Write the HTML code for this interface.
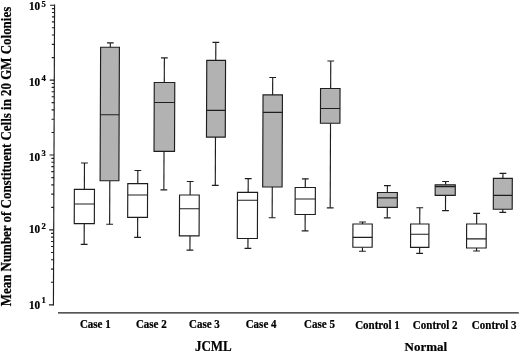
<!DOCTYPE html>
<html><head><meta charset="utf-8"><style>
html,body{margin:0;padding:0;background:#fff;width:520px;height:353px;overflow:hidden}
svg{display:block;filter:grayscale(100%)}
text{font-family:"Liberation Serif",serif;font-weight:bold;fill:#000;stroke:#000;stroke-width:0.22px}
</style></head><body>
<svg width="520" height="353" viewBox="0 0 520 353">
<g stroke="#1e1e1e" stroke-width="1.15" fill="none" stroke-linecap="butt" transform="matrix(1 0 -0.0038 1 0.589 0)">
<line x1="54.0" y1="4.6000000000000005" x2="54.0" y2="305.40"/>
<line x1="49.5" y1="304.80" x2="54.0" y2="304.80"/>
<line x1="51.4" y1="282.25" x2="54.0" y2="282.25"/>
<line x1="51.4" y1="269.06" x2="54.0" y2="269.06"/>
<line x1="51.4" y1="259.71" x2="54.0" y2="259.71"/>
<line x1="51.4" y1="252.45" x2="54.0" y2="252.45"/>
<line x1="51.4" y1="246.52" x2="54.0" y2="246.52"/>
<line x1="51.4" y1="241.50" x2="54.0" y2="241.50"/>
<line x1="51.4" y1="237.16" x2="54.0" y2="237.16"/>
<line x1="51.4" y1="233.33" x2="54.0" y2="233.33"/>
<line x1="49.5" y1="229.90" x2="54.0" y2="229.90"/>
<line x1="51.4" y1="207.35" x2="54.0" y2="207.35"/>
<line x1="51.4" y1="194.16" x2="54.0" y2="194.16"/>
<line x1="51.4" y1="184.81" x2="54.0" y2="184.81"/>
<line x1="51.4" y1="177.55" x2="54.0" y2="177.55"/>
<line x1="51.4" y1="171.62" x2="54.0" y2="171.62"/>
<line x1="51.4" y1="166.60" x2="54.0" y2="166.60"/>
<line x1="51.4" y1="162.26" x2="54.0" y2="162.26"/>
<line x1="51.4" y1="158.43" x2="54.0" y2="158.43"/>
<line x1="49.5" y1="155.00" x2="54.0" y2="155.00"/>
<line x1="51.4" y1="132.45" x2="54.0" y2="132.45"/>
<line x1="51.4" y1="119.26" x2="54.0" y2="119.26"/>
<line x1="51.4" y1="109.91" x2="54.0" y2="109.91"/>
<line x1="51.4" y1="102.65" x2="54.0" y2="102.65"/>
<line x1="51.4" y1="96.72" x2="54.0" y2="96.72"/>
<line x1="51.4" y1="91.70" x2="54.0" y2="91.70"/>
<line x1="51.4" y1="87.36" x2="54.0" y2="87.36"/>
<line x1="51.4" y1="83.53" x2="54.0" y2="83.53"/>
<line x1="49.5" y1="80.10" x2="54.0" y2="80.10"/>
<line x1="51.4" y1="57.55" x2="54.0" y2="57.55"/>
<line x1="51.4" y1="44.36" x2="54.0" y2="44.36"/>
<line x1="51.4" y1="35.01" x2="54.0" y2="35.01"/>
<line x1="51.4" y1="27.75" x2="54.0" y2="27.75"/>
<line x1="51.4" y1="21.82" x2="54.0" y2="21.82"/>
<line x1="51.4" y1="16.80" x2="54.0" y2="16.80"/>
<line x1="51.4" y1="12.46" x2="54.0" y2="12.46"/>
<line x1="51.4" y1="8.63" x2="54.0" y2="8.63"/>
<line x1="49.5" y1="5.20" x2="54.0" y2="5.20"/>
<line x1="58.6" y1="312.8" x2="519.4" y2="312.8" stroke-width="1.3"/>
<line x1="84.5" y1="163.0" x2="84.5" y2="189.4"/>
<line x1="84.5" y1="223.6" x2="84.5" y2="244.4"/>
<line x1="81.10" y1="163.0" x2="87.90" y2="163.0"/>
<line x1="81.10" y1="244.4" x2="87.90" y2="244.4"/>
<rect x="74.5" y="189.4" width="20.10" height="34.20" fill="#ffffff"/>
<line x1="74.5" y1="204.0" x2="94.6" y2="204.0"/>
<line x1="137.9" y1="170.5" x2="137.9" y2="183.6"/>
<line x1="137.9" y1="217.3" x2="137.9" y2="237.4"/>
<line x1="134.50" y1="170.5" x2="141.30" y2="170.5"/>
<line x1="134.50" y1="237.4" x2="141.30" y2="237.4"/>
<rect x="127.9" y="183.6" width="19.80" height="33.70" fill="#ffffff"/>
<line x1="127.9" y1="195.0" x2="147.7" y2="195.0"/>
<line x1="190.3" y1="181.5" x2="190.3" y2="195.0"/>
<line x1="190.3" y1="235.8" x2="190.3" y2="250.1"/>
<line x1="186.90" y1="181.5" x2="193.70" y2="181.5"/>
<line x1="186.90" y1="250.1" x2="193.70" y2="250.1"/>
<rect x="179.7" y="195.0" width="19.70" height="40.80" fill="#ffffff"/>
<line x1="179.7" y1="208.7" x2="199.4" y2="208.7"/>
<line x1="248.3" y1="178.6" x2="248.3" y2="192.3"/>
<line x1="248.3" y1="238.5" x2="248.3" y2="248.4"/>
<line x1="244.90" y1="178.6" x2="251.70" y2="178.6"/>
<line x1="244.90" y1="248.4" x2="251.70" y2="248.4"/>
<rect x="237.6" y="192.3" width="20.10" height="46.20" fill="#ffffff"/>
<line x1="237.6" y1="200.2" x2="257.7" y2="200.2"/>
<line x1="305.4" y1="178.8" x2="305.4" y2="187.5"/>
<line x1="305.4" y1="214.5" x2="305.4" y2="230.9"/>
<line x1="302.00" y1="178.8" x2="308.80" y2="178.8"/>
<line x1="302.00" y1="230.9" x2="308.80" y2="230.9"/>
<rect x="295.3" y="187.5" width="20.20" height="27.00" fill="#ffffff"/>
<line x1="295.3" y1="199.0" x2="315.5" y2="199.0"/>
<line x1="362.8" y1="222.0" x2="362.8" y2="224.0"/>
<line x1="362.8" y1="247.2" x2="362.8" y2="251.2"/>
<line x1="359.40" y1="222.0" x2="366.20" y2="222.0"/>
<line x1="359.40" y1="251.2" x2="366.20" y2="251.2"/>
<rect x="353.2" y="224.0" width="19.30" height="23.20" fill="#ffffff"/>
<line x1="353.2" y1="237.3" x2="372.5" y2="237.3"/>
<line x1="420.0" y1="207.7" x2="420.0" y2="224.0"/>
<line x1="420.0" y1="247.4" x2="420.0" y2="253.4"/>
<line x1="416.60" y1="207.7" x2="423.40" y2="207.7"/>
<line x1="416.60" y1="253.4" x2="423.40" y2="253.4"/>
<rect x="410.9" y="224.0" width="18.30" height="23.40" fill="#ffffff"/>
<line x1="410.9" y1="234.2" x2="429.2" y2="234.2"/>
<line x1="476.9" y1="213.4" x2="476.9" y2="224.0"/>
<line x1="476.9" y1="248.0" x2="476.9" y2="251.0"/>
<line x1="473.50" y1="213.4" x2="480.30" y2="213.4"/>
<line x1="473.50" y1="251.0" x2="480.30" y2="251.0"/>
<rect x="466.9" y="224.0" width="19.60" height="24.00" fill="#ffffff"/>
<line x1="466.9" y1="238.8" x2="486.5" y2="238.8"/>
<line x1="109.9" y1="42.9" x2="109.9" y2="47.2"/>
<line x1="109.9" y1="180.7" x2="109.9" y2="224.2"/>
<line x1="106.50" y1="42.9" x2="113.30" y2="42.9"/>
<line x1="106.50" y1="224.2" x2="113.30" y2="224.2"/>
<rect x="100.2" y="47.2" width="18.80" height="133.50" fill="#b2b2b2"/>
<line x1="100.2" y1="114.7" x2="119.0" y2="114.7"/>
<line x1="164.0" y1="57.9" x2="164.0" y2="82.5"/>
<line x1="164.0" y1="151.4" x2="164.0" y2="189.8"/>
<line x1="160.60" y1="57.9" x2="167.40" y2="57.9"/>
<line x1="160.60" y1="189.8" x2="167.40" y2="189.8"/>
<rect x="154.0" y="82.5" width="20.50" height="68.90" fill="#b2b2b2"/>
<line x1="154.0" y1="102.5" x2="174.5" y2="102.5"/>
<line x1="215.4" y1="42.4" x2="215.4" y2="60.3"/>
<line x1="215.4" y1="137.1" x2="215.4" y2="185.3"/>
<line x1="212.00" y1="42.4" x2="218.80" y2="42.4"/>
<line x1="212.00" y1="185.3" x2="218.80" y2="185.3"/>
<rect x="206.4" y="60.3" width="18.80" height="76.80" fill="#b2b2b2"/>
<line x1="206.4" y1="110.4" x2="225.2" y2="110.4"/>
<line x1="272.4" y1="77.5" x2="272.4" y2="94.9"/>
<line x1="272.4" y1="187.0" x2="272.4" y2="217.7"/>
<line x1="269.00" y1="77.5" x2="275.80" y2="77.5"/>
<line x1="269.00" y1="217.7" x2="275.80" y2="217.7"/>
<rect x="262.8" y="94.9" width="19.40" height="92.10" fill="#b2b2b2"/>
<line x1="262.8" y1="112.4" x2="282.2" y2="112.4"/>
<line x1="330.4" y1="61.0" x2="330.4" y2="88.5"/>
<line x1="330.4" y1="123.2" x2="330.4" y2="207.8"/>
<line x1="327.00" y1="61.0" x2="333.80" y2="61.0"/>
<line x1="327.00" y1="207.8" x2="333.80" y2="207.8"/>
<rect x="320.3" y="88.5" width="19.50" height="34.70" fill="#b2b2b2"/>
<line x1="320.3" y1="108.5" x2="339.8" y2="108.5"/>
<line x1="387.5" y1="185.6" x2="387.5" y2="192.5"/>
<line x1="387.5" y1="207.3" x2="387.5" y2="217.8"/>
<line x1="384.10" y1="185.6" x2="390.90" y2="185.6"/>
<line x1="384.10" y1="217.8" x2="390.90" y2="217.8"/>
<rect x="377.6" y="192.5" width="19.90" height="14.80" fill="#b2b2b2"/>
<line x1="377.6" y1="197.9" x2="397.5" y2="197.9"/>
<line x1="445.7" y1="181.5" x2="445.7" y2="184.8"/>
<line x1="445.7" y1="195.4" x2="445.7" y2="210.6"/>
<line x1="442.30" y1="181.5" x2="449.10" y2="181.5"/>
<line x1="442.30" y1="210.6" x2="449.10" y2="210.6"/>
<rect x="435.3" y="184.8" width="20.10" height="10.60" fill="#b2b2b2"/>
<line x1="435.3" y1="186.6" x2="455.4" y2="186.6"/>
<line x1="503.0" y1="173.3" x2="503.0" y2="178.4"/>
<line x1="503.0" y1="209.2" x2="503.0" y2="212.3"/>
<line x1="499.60" y1="173.3" x2="506.40" y2="173.3"/>
<line x1="499.60" y1="212.3" x2="506.40" y2="212.3"/>
<rect x="493.5" y="178.4" width="18.90" height="30.80" fill="#b2b2b2"/>
<line x1="493.5" y1="195.4" x2="512.4" y2="195.4"/>
</g>
<g>
<text transform="translate(29.0,309.0) scale(1,1.02)" font-size="11.2">10</text>
<text transform="translate(41.4,303.4) scale(1,1.05)" font-size="8.6">1</text>
<text transform="translate(29.0,233.3) scale(1,1.02)" font-size="11.2">10</text>
<text transform="translate(41.4,228.6) scale(1,1.05)" font-size="8.6">2</text>
<text transform="translate(29.0,160.9) scale(1,1.02)" font-size="11.2">10</text>
<text transform="translate(41.4,155.6) scale(1,1.05)" font-size="8.6">3</text>
<text transform="translate(29.0,85.6) scale(1,1.02)" font-size="11.2">10</text>
<text transform="translate(41.4,80.7) scale(1,1.05)" font-size="8.6">4</text>
<text transform="translate(29.0,9.9) scale(1,1.02)" font-size="11.2">10</text>
<text transform="translate(41.4,7.4) scale(1,1.05)" font-size="8.6">5</text>
<text transform="translate(95.3,327.6) scale(1,1.09)" font-size="11" text-anchor="middle">Case 1</text>
<text transform="translate(151.3,327.6) scale(1,1.09)" font-size="11" text-anchor="middle">Case 2</text>
<text transform="translate(204.4,327.6) scale(1,1.09)" font-size="11" text-anchor="middle">Case 3</text>
<text transform="translate(261.1,327.6) scale(1,1.09)" font-size="11" text-anchor="middle">Case 4</text>
<text transform="translate(319.5,327.6) scale(1,1.09)" font-size="11" text-anchor="middle">Case 5</text>
<text transform="translate(377.5,328.6) scale(1,1.09)" font-size="11" text-anchor="middle">Control 1</text>
<text transform="translate(435.2,328.6) scale(1,1.09)" font-size="11" text-anchor="middle">Control 2</text>
<text transform="translate(494.2,328.6) scale(1,1.09)" font-size="11" text-anchor="middle">Control 3</text>
<text transform="translate(213.3,350.8) scale(1,1.08)" font-size="13" text-anchor="middle">JCML</text>
<text transform="translate(425.9,350.6) scale(1,1.03)" font-size="13" text-anchor="middle">Normal</text>
<text transform="translate(10.5,156.55) rotate(-90) scale(1,1.09)" font-size="12.95" text-anchor="middle">Mean Number of Constituent Cells in 20 GM Colonies</text>
</g>
</svg>
</body></html>
